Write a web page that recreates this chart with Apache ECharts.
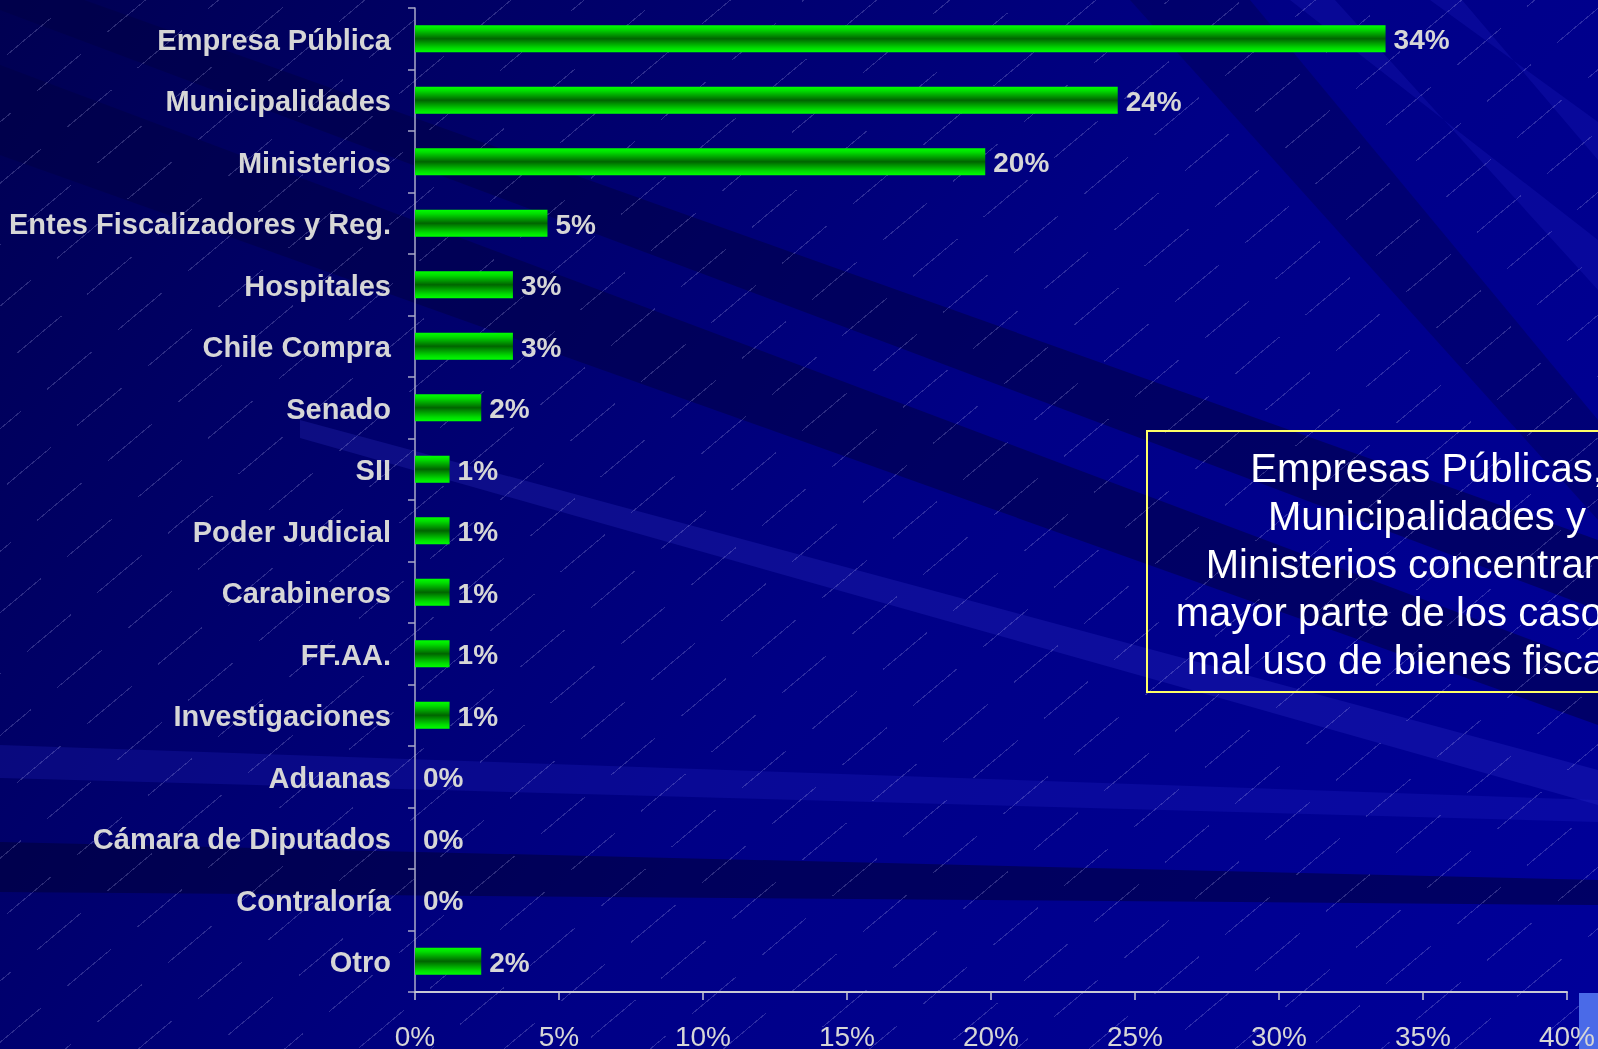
<!DOCTYPE html>
<html>
<head>
<meta charset="utf-8">
<title>Mal uso de bienes fiscales por institución</title>
<script src="https://cdn.jsdelivr.net/npm/echarts@6/dist/echarts.min.js"></script>
<style>
  html, body { margin: 0; padding: 0; overflow: hidden; }
  #wrap { position: relative; width: 1598px; height: 1049px;
    background: linear-gradient(125deg, #000052 0%, #00006c 28%, #000086 55%, #00009a 100%); }
  .band { position: absolute; left: 0; top: 0; width: 1598px; height: 1049px; }
  #lines {
    position: absolute; left: 0; top: 0; width: 1598px; height: 1049px;
    background: repeating-linear-gradient(140deg, rgba(255,255,255,0) 0px, rgba(255,255,255,0) 46px,
      rgba(200,200,255,0.22) 46px, rgba(200,200,255,0.22) 47px);
    -webkit-mask-image: repeating-linear-gradient(50deg, #000 0px, #000 58px, transparent 58px, transparent 92px);
    mask-image: repeating-linear-gradient(50deg, #000 0px, #000 58px, transparent 58px, transparent 92px);
  }
  #chart { position: absolute; left: 0; top: 0; width: 1598px; height: 1049px; }
</style>
</head>
<body>
<div id="wrap">
  <div id="bands"></div>
  <div id="lines"></div>
  <div id="chart"></div>
</div>
<script>
// datos
const categorias = ['Empresa Pública', 'Municipalidades', 'Ministerios', 'Entes Fiscalizadores y Reg.',
  'Hospitales', 'Chile Compra', 'Senado', 'SII', 'Poder Judicial', 'Carabineros', 'FF.AA.',
  'Investigaciones', 'Aduanas', 'Cámara de Diputados', 'Contraloría', 'Otro'];
const porcentajes = [33.7, 24.4, 19.8, 4.6, 3.4, 3.4, 2.3, 1.2, 1.2, 1.2, 1.2, 1.2, 0, 0, 0, 2.3];
const ticksX = ['0%', '5%', '10%', '15%', '20%', '25%', '30%', '35%', '40%'];
const nota = ['Empresas Públicas,', 'Municipalidades y', 'Ministerios concentran la',
  'mayor parte de los casos de', 'mal uso de bienes fiscales.'];

// franjas del fondo (rayos), solo decoracion
const franjas = [
  ['0px -30px, 1598px 540px, 1598px 610px, 0px 10px', 'rgba(0,0,70,0.55)'],
  ['0px 65px, 1598px 665px, 1598px 725px, 0px 155px', 'rgba(0,0,70,0.55)'],
  ['300px 420px, 1598px 770px, 1598px 805px, 300px 438px', 'rgba(60,60,220,0.22)'],
  ['0px 745px, 1598px 800px, 1598px 822px, 0px 778px', 'rgba(40,40,210,0.22)'],
  ['0px 842px, 1598px 880px, 1598px 905px, 0px 892px', 'rgba(0,0,50,0.5)'],
  ['1290px 0px, 1335px 0px, 1598px 290px, 1598px 240px', 'rgba(40,40,210,0.2)'],
  ['1430px 0px, 1462px 0px, 1598px 160px, 1598px 122px', 'rgba(40,40,210,0.2)'],
  ['1130px 0px, 1250px 0px, 1598px 420px, 1598px 520px', 'rgba(0,0,70,0.35)']
];
const bandsEl = document.getElementById('bands');
franjas.forEach(function (f) {
  let d = document.createElement('div');
  d.className = 'band';
  d.style.clipPath = 'polygon(' + f[0] + ')';
  d.style.background = f[1];
  bandsEl.appendChild(d);
});

let chart = echarts.init(document.getElementById('chart'));

const textColor = '#d6d6d6';
const font = "'Liberation Sans', Arial, sans-serif";

let option = {
  backgroundColor: 'transparent',
  animation: false,
  grid: { left: 415, right: 31, top: 8, bottom: 57, containLabel: false, outerBoundsMode: 'none' },
  xAxis: {
    type: 'value',
    min: 0,
    max: 40,
    interval: 5,
    splitLine: { show: false },
    axisLine: { show: true, lineStyle: { color: '#c8c8d4', width: 2 } },
    axisTick: { show: true, length: 8, lineStyle: { color: '#c8c8d4', width: 1.5 } },
    axisLabel: {
      margin: 32,
      color: textColor,
      fontSize: 28,
      fontFamily: font,
      formatter: function (v) { return ticksX[Math.round(v / 5)]; }
    }
  },
  yAxis: {
    type: 'category',
    inverse: true,
    data: categorias,
    axisLine: { show: true, lineStyle: { color: '#a8a8c8', width: 1.5 } },
    axisTick: { show: true, length: 7, lineStyle: { color: '#a8a8c8', width: 1.5 } },
    axisLabel: {
      margin: 24,
      formatter: function (v) { return '{c|' + v + '}'; },
      rich: {
        c: {
          color: textColor,
          fontSize: 29,
          fontWeight: 'bold',
          fontFamily: font,
          padding: [6, 0, 0, 0]
        }
      }
    }
  },
  series: [{
    type: 'bar',
    data: porcentajes,
    barWidth: 27,
    itemStyle: {
      color: new echarts.graphic.LinearGradient(0, 0, 0, 1, [
        { offset: 0, color: '#00ff00' },
        { offset: 0.15, color: '#00dd00' },
        { offset: 0.5, color: '#006400' },
        { offset: 0.85, color: '#00dd00' },
        { offset: 1, color: '#00ff00' }
      ])
    },
    label: {
      show: true,
      position: 'right',
      distance: 8,
      offset: [0, 3],
      color: textColor,
      fontSize: 28,
      fontWeight: 'bold',
      fontFamily: font,
      formatter: function (p) { return Math.round(p.value) + '%'; }
    }
  }],
  graphic: [
    // recuadro azul claro de la esquina
    { type: 'rect', silent: true, z: -5, shape: { x: 1579, y: 993, width: 19, height: 56 }, style: { fill: '#4a6ae8' } },
    // cuadro de texto
    {
      type: 'rect',
      silent: true,
      shape: { x: 1147, y: 431, width: 600, height: 261 },
      style: { fill: 'rgba(0,0,0,0)', stroke: '#ffff66', lineWidth: 2 }
    },
    {
      type: 'text',
      silent: true,
      x: 1427,
      y: 447,
      style: {
        text: nota.join('\n'),
        fill: '#ffffff',
        font: '40px ' + font,
        lineHeight: 48,
        align: 'center',
        verticalAlign: 'top'
      }
    }
  ]
};

chart.setOption(option);
</script>
</body>
</html>
